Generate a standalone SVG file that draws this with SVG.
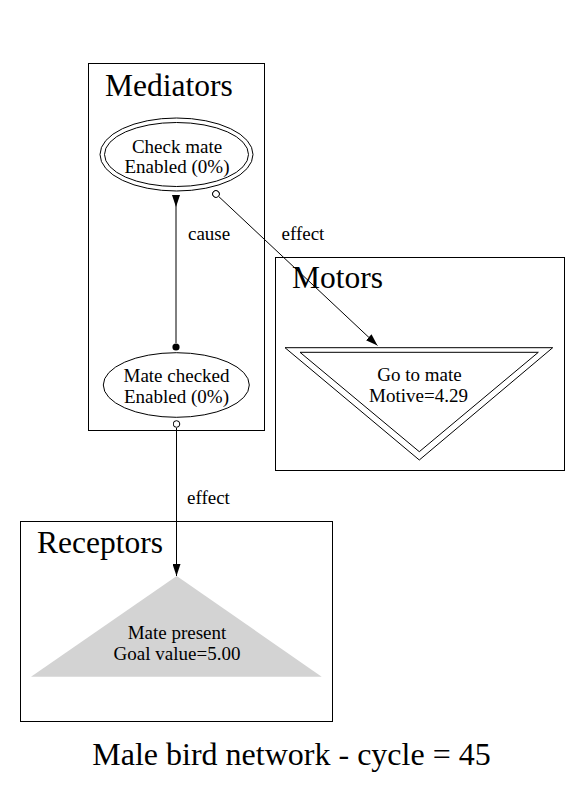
<svg xmlns="http://www.w3.org/2000/svg" width="581" height="785" viewBox="0 0 581 785">
  <style>
    text { font-family: "Liberation Serif", "Times New Roman", serif; fill: #000; }
    .cluster { fill: none; stroke: #000; stroke-width: 1; }
    .ctitle { font-size: 31.5px; }
    .lbl { font-size: 19px; text-anchor: middle; }
    .elbl { font-size: 19px; }
    .shape { fill: none; stroke: #000; stroke-width: 1; }
    .edge { fill: none; stroke: #000; stroke-width: 1; }
    .title { font-size: 32px; text-anchor: middle; }
  </style>
  <defs>
    <marker id="arrow" viewBox="0 0 12 8" refX="12" refY="4" markerWidth="12" markerHeight="8" markerUnits="userSpaceOnUse" orient="auto">
      <path d="M0,0 L12,4 L0,8 z" fill="#000"/>
    </marker>
    <marker id="arrowTail" viewBox="0 0 12 8" refX="0" refY="4" markerWidth="12" markerHeight="8" markerUnits="userSpaceOnUse" orient="auto">
      <path d="M0,0 L12,4 L0,8 z" fill="#000"/>
    </marker>
    <marker id="dot" viewBox="0 0 8 8" refX="0" refY="4" markerWidth="8" markerHeight="8" markerUnits="userSpaceOnUse" orient="auto">
      <circle cx="4" cy="4" r="3.6" fill="#000"/>
    </marker>
    <marker id="odot" viewBox="0 0 8 8" refX="8" refY="4" markerWidth="8" markerHeight="8" markerUnits="userSpaceOnUse" orient="auto">
      <circle cx="4" cy="4" r="3.3" fill="#fff" stroke="#000" stroke-width="1"/>
    </marker>
  </defs>

  <rect width="581" height="785" fill="#fff"/>

  <!-- clusters -->
  <g id="cluster-mediators">
    <rect class="cluster" x="88.5" y="63.5" width="176" height="367"/>
    <text class="ctitle" x="105" y="95.5">Mediators</text>
  </g>
  <g id="cluster-motors">
    <rect class="cluster" x="275.5" y="257.5" width="289" height="213"/>
    <text class="ctitle" x="292" y="287.5">Motors</text>
  </g>
  <g id="cluster-receptors">
    <rect class="cluster" x="20.5" y="521.5" width="312" height="200"/>
    <text class="ctitle" x="37" y="552.5">Receptors</text>
  </g>

  <!-- nodes -->
  <g id="node-check-mate">
    <ellipse class="shape" cx="176.5" cy="154.5" rx="76.5" ry="36.5"/>
    <ellipse class="shape" cx="176.5" cy="154.5" rx="72" ry="32"/>
    <text class="lbl" x="177" y="152.5">Check mate</text>
    <text class="lbl" x="177" y="172.5">Enabled (0%)</text>
  </g>
  <g id="node-mate-checked">
    <ellipse class="shape" cx="176.3" cy="385" rx="73" ry="32.3"/>
    <text class="lbl" x="176.5" y="382">Mate checked</text>
    <text class="lbl" x="176.5" y="403">Enabled (0%)</text>
  </g>
  <g id="node-go-to-mate">
    <polygon class="shape" points="285,347.7 552.7,347.7 419.3,460"/>
    <polygon class="shape" points="300,352.3 538.3,352.3 419.3,451.7"/>
    <text class="lbl" x="419.5" y="380.5">Go to mate</text>
    <text class="lbl" x="418.5" y="402">Motive=4.29</text>
  </g>
  <g id="node-mate-present">
    <polygon points="176.7,576 31,676.7 321.7,676.7" fill="#d3d3d3"/>
    <text class="lbl" x="177" y="639">Mate present</text>
    <text class="lbl" x="177" y="659.5">Goal value=5.00</text>
  </g>

  <!-- connectors -->
  <g id="edges">
    <path class="edge" d="M176,195 L176,343" marker-start="url(#arrowTail)" marker-end="url(#dot)"/>
    <text class="elbl" x="188" y="240">cause</text>
    <path class="edge" d="M218.9,196.7 L377.5,345.5" marker-start="url(#odot)" marker-end="url(#arrow)"/>
    <text class="elbl" x="281.5" y="240">effect</text>
    <path class="edge" d="M176.5,428 L176.5,576" marker-start="url(#odot)" marker-end="url(#arrow)"/>
    <text class="elbl" x="187" y="503.5">effect</text>
  </g>

  <text class="title" x="291.5" y="765">Male bird network - cycle = 45</text>
</svg>
